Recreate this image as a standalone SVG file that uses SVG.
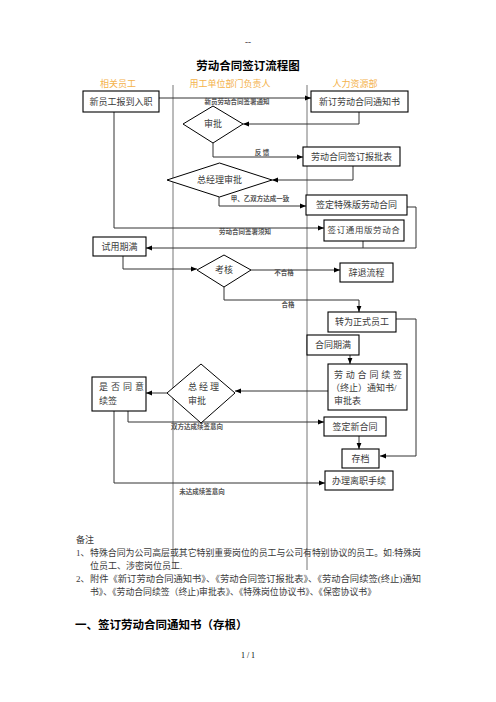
<svg xmlns="http://www.w3.org/2000/svg" width="496" height="702" viewBox="0 0 496 702">
<style>
text{font-family:"Liberation Serif","Noto Sans CJK SC",serif;fill:#3a3a3a;}
.t{font-size:9px;}
.hd{font-size:9px;fill:#F4B24A;text-anchor:middle;}
.lb{font-size:6.5px;font-weight:bold;fill:#555;text-anchor:middle;}
.bx{fill:#fff;stroke:#000;stroke-width:1.1;}
.dm{fill:#fff;stroke:#000;stroke-width:1;}
.ln{fill:none;stroke:#333;stroke-width:1;}
.lane{stroke:#777;stroke-width:1;}
.c{text-anchor:middle;}
</style>
<defs>
<marker id="ah" viewBox="0 0 10 10" refX="10" refY="5" markerWidth="6" markerHeight="6" orient="auto">
<path d="M0,1 L10,5 L0,9 Z" fill="#000"/>
</marker>
</defs>
<rect width="496" height="702" fill="#fff"/>
<text x="248" y="45" class="c" style="font-size:9px;font-weight:bold">--</text>
<text x="248" y="70" class="c" style="font-size:11.5px;font-weight:bold;fill:#000">劳动合同签订流程图</text>
<g id="lanes">
<text x="118" y="87" class="hd">相关员工</text>
<text x="230" y="87" class="hd">用工单位部门负责人</text>
<text x="355" y="87" class="hd">人力资源部</text>
<line x1="173" y1="85" x2="173" y2="568" class="lane"/>
<line x1="307" y1="85" x2="307" y2="570" class="lane"/>
</g>
<g id="connectors">
<path d="M159,98 H311" class="ln" marker-end="url(#ah)"/>
<text x="237" y="104" class="lb">新员劳动合同签署通知</text>
<path d="M359,112 V124 H243" class="ln" marker-end="url(#ah)"/>
<path d="M213,143 V157 H303" class="ln" marker-end="url(#ah)"/>
<text x="262" y="155" class="lb">反 馈</text>
<path d="M353,166 V180 H272" class="ln" marker-end="url(#ah)"/>
<path d="M219,197 V206 H306" class="ln" marker-end="url(#ah)"/>
<text x="260" y="201" class="lb">甲、乙双方达成一致</text>
<path d="M114,112 V228 H324" class="ln" marker-end="url(#ah)"/>
<text x="245" y="234" class="lb">劳动合同签署须知</text>
<path d="M407,207 H416 V248 H146" class="ln" marker-end="url(#ah)"/>
<path d="M363,241 V248" class="ln"/>
<path d="M123,256 V269 H197" class="ln" marker-end="url(#ah)"/>
<path d="M251,270 H340" class="ln" marker-end="url(#ah)"/>
<text x="284" y="275" class="lb">不合格</text>
<path d="M224,287 V300 H359 V312" class="ln" marker-end="url(#ah)"/>
<text x="288" y="307" class="lb">合格</text>
<path d="M396,319 H416 V456 H380" class="ln" marker-end="url(#ah)"/>
<path d="M350,355 V364" class="ln" marker-end="url(#ah)"/>
<path d="M328,391 H235" class="ln" marker-end="url(#ah)"/>
<path d="M167,393 H146" class="ln" marker-end="url(#ah)"/>
<path d="M128,411 V422 H324" class="ln" marker-end="url(#ah)"/>
<text x="197" y="429" class="lb">双方达成续签意向</text>
<path d="M359,436 V449" class="ln" marker-end="url(#ah)"/>
<path d="M114,411 V483 H325" class="ln" marker-end="url(#ah)"/>
<text x="202" y="494" class="lb">未达成续签意向</text>
</g>
<g id="n_entry"><rect x="83" y="91" width="76" height="21" class="bx"/><text x="121" y="105" class="t c">新员工报到入职</text></g>
<g id="n_notice"><rect x="311" y="91" width="97" height="21" class="bx"/><text x="359.5" y="105" class="t c">新订劳动合同通知书</text></g>
<g id="n_approve"><polygon points="213,106 243,124 213,143 183,124" class="dm"/><text x="213" y="127" class="t c">审批</text></g>
<g id="n_form"><rect x="303" y="147" width="97" height="19" class="bx"/><text x="351.5" y="160" class="t c">劳动合同签订报批表</text></g>
<g id="n_gm1"><polygon points="219.5,163 272,180 219.5,197 167,180" class="dm"/><text x="219.5" y="183" class="t c">总经理审批</text></g>
<g id="n_special"><rect x="306" y="195" width="101" height="20" class="bx"/><text x="356.5" y="208" class="t c">签定特殊版劳动合同</text></g>
<g id="n_general"><rect x="324" y="220" width="80" height="21" class="bx"/><text x="364" y="233" class="c" style="font-size:8.5px" letter-spacing="0.6">签订通用版劳动合</text></g>
<g id="n_trial"><rect x="93" y="237" width="53" height="19" class="bx"/><text x="119.5" y="250" class="t c">试用期满</text></g>
<g id="n_assess"><polygon points="224,255 251,270 224,287 197,270" class="dm"/><text x="224" y="273" class="t c">考核</text></g>
<g id="n_dismiss"><rect x="340" y="263" width="53" height="19" class="bx"/><text x="366.5" y="276" class="t c">辞退流程</text></g>
<g id="n_regular"><rect x="328" y="312" width="68" height="20" class="bx"/><text x="362" y="325" class="t c">转为正式员工</text></g>
<g id="n_expire"><rect x="307" y="335" width="52" height="20" class="bx"/><text x="333" y="348" class="t c">合同期满</text></g>
<g id="n_renew"><rect x="328" y="364" width="79" height="46" class="bx"/>
<text x="334" y="378" class="t" textLength="68" lengthAdjust="spacing">劳动合同续签</text>
<text x="331" y="391" class="t">（终止）通知书/</text>
<text x="334" y="404" class="t">审批表</text></g>
<g id="n_gm2"><polygon points="201,364 235,393 201,423 167,393" class="dm"/>
<text x="188" y="390" class="t" letter-spacing="2">总经理</text>
<text x="188" y="404" class="t">审批</text></g>
<g id="n_agree"><rect x="92" y="377" width="54" height="34" class="bx"/>
<text x="99" y="390" class="t" letter-spacing="3">是否同意</text>
<text x="99" y="404" class="t">续签</text></g>
<g id="n_newc"><rect x="324" y="417" width="62" height="19" class="bx"/><text x="355" y="430" class="t c">签定新合同</text></g>
<g id="n_archive"><rect x="342" y="449" width="37" height="19" class="bx"/><text x="360.5" y="462" class="t c">存档</text></g>
<g id="n_leave"><rect x="325" y="471" width="68" height="19" class="bx"/><text x="359" y="484" class="t c">办理离职手续</text></g>
<g id="notes">
<text x="76" y="543" class="t">备注</text>
<text x="76" y="556" class="t">1、</text>
<text x="90" y="556" class="t" textLength="331" lengthAdjust="spacingAndGlyphs">特殊合同为公司高层或其它特别重要岗位的员工与公司有特别协议的员工。如:特殊岗</text>
<text x="90" y="569" class="t">位员工、涉密岗位员工.</text>
<text x="76" y="582" class="t">2、</text>
<text x="90" y="582" class="t" textLength="331" lengthAdjust="spacingAndGlyphs">附件《新订劳动合同通知书》、《劳动合同签订报批表》、《劳动合同续签(终止)通知</text>
<text x="90" y="595" class="t" textLength="286" lengthAdjust="spacingAndGlyphs">书》、《劳动合同续签（终止)审批表》、《特殊岗位协议书》、《保密协议书》</text>
<text x="75" y="629" style="font-size:11.5px;font-weight:bold;fill:#000">一、签订劳动合同通知书（存根）</text>
<text x="248" y="658" class="c" style="font-size:8px;fill:#000">1 / 1</text>
</g>
</svg>
